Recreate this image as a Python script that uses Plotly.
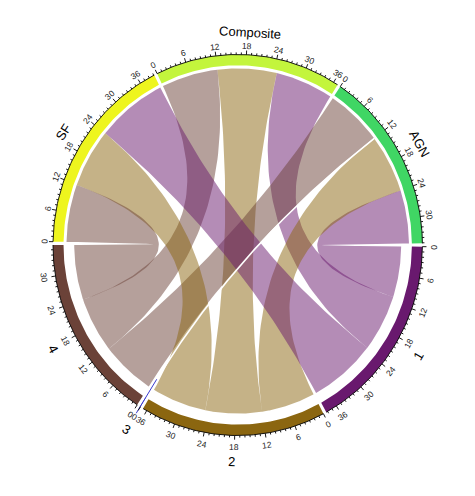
import numpy as np
import plotly.graph_objects as go

# ---------------- data ----------------
rows = ["Composite", "AGN", "SF"]
cols = ["1", "2", "3", "4"]
composite_links = [12.3, 12.6, 0.0, 12.0]   # Composite -> 1, 2, 3, 4
agn_links = [11.0, 12.0, 0.1, 12.0]         # AGN -> 1, 2, 3, 4
sf_links = [15.0, 12.2, 0.0, 11.9]          # SF -> 1, 2, 3, 4
sector_order = ["1", "2", "3", "4", "SF", "Composite", "AGN"]
sector_colors = {
    "1": "#69196e", "2": "#8b6610", "3": "#3a3ad0", "4": "#6b4238",
    "SF": "#eef51e", "Composite": "#c3f53c", "AGN": "#40d664",
}
tick_label_step = 6

matrix = {"Composite": composite_links, "AGN": agn_links, "SF": sf_links}

# ---------------- geometry ----------------
GAP = 1.0
START = 90.5
R_OUT, R_IN, R_SRC, R_TGT = 1.0, 0.943, 0.927, 0.885

sizes = {}
for r in rows:
    sizes[r] = sum(matrix[r])
for j, c in enumerate(cols):
    sizes[c] = sum(matrix[r][j] for r in rows)
total = sum(sizes.values())
deg_per = (360.0 - GAP * len(sector_order)) / total

sec_start = {}
a = START
for s in sector_order:
    sec_start[s] = a
    a += sizes[s] * deg_per + GAP


def pt(r, th):
    t = np.radians(th)
    return r * np.sin(t), r * np.cos(t)


def arc(r, a1, a2, n=60):
    th = np.radians(np.linspace(a1, a2, n))
    return list(r * np.sin(th)), list(r * np.cos(th))


def bez(p0, p2, n=60):
    t = np.linspace(0, 1, n)
    x = (1 - t) ** 2 * p0[0] + t ** 2 * p2[0]
    y = (1 - t) ** 2 * p0[1] + t ** 2 * p2[1]
    return list(x), list(y)


idx = {s: i for i, s in enumerate(sector_order)}
# allocate link slots inside sectors (partners in reverse circle order)
slots = {}
for s in sector_order:
    if s in rows:
        partners = [(c, matrix[s][cols.index(c)]) for c in cols]
    else:
        partners = [(r, matrix[r][cols.index(s)]) for r in rows]
    partners.sort(key=lambda p: -idx[p[0]])
    pos = sec_start[s]
    for p, v in partners:
        slots[(s, p)] = (pos, pos + v * deg_per)
        pos += v * deg_per

fig = go.Figure()

# sector rings
for s in sector_order:
    a1 = sec_start[s]
    a2 = a1 + sizes[s] * deg_per
    xo, yo = arc(R_OUT, a1, a2)
    xi, yi = arc(R_IN, a2, a1)
    fig.add_trace(go.Scatter(x=xo + xi, y=yo + yi, fill="toself", mode="lines",
                             line=dict(width=0), fillcolor=sector_colors[s],
                             hoverinfo="skip", showlegend=False))


def rgba(hexc, al):
    h = hexc.lstrip("#")
    return "rgba(%d,%d,%d,%.2f)" % (int(h[0:2], 16), int(h[2:4], 16), int(h[4:6], 16), al)


# links
thin = []
for r in rows:
    for j, c in enumerate(cols):
        v = matrix[r][j]
        if v <= 0:
            continue
        a1, a2 = slots[(r, c)]
        b1, b2 = slots[(c, r)]
        if v < 0.5:
            thin.append((r, c))
            continue
        xs, ys = arc(R_SRC, a1, a2)
        bx, by = bez(pt(R_SRC, a2), pt(R_TGT, b1))
        tx, ty = arc(R_TGT, b1, b2)
        cx, cy = bez(pt(R_TGT, b2), pt(R_SRC, a1))
        fig.add_trace(go.Scatter(x=xs + bx + tx + cx, y=ys + by + ty + cy, fill="toself",
                                 mode="lines", line=dict(width=0),
                                 fillcolor=rgba(sector_colors[c], 0.5),
                                 hoverinfo="skip", showlegend=False))

for r, c in thin:
    a1, a2 = slots[(r, c)]
    b1, b2 = slots[(c, r)]
    bx, by = bez(pt(R_SRC, (a1 + a2) / 2), pt(R_TGT, (b1 + b2) / 2), 120)
    fig.add_trace(go.Scatter(x=bx, y=by, mode="lines", line=dict(color="white", width=1.6),
                             hoverinfo="skip", showlegend=False))
    m = (b1 + b2) / 2
    p0, p1 = pt(0.83, m), pt(1.04, m)
    fig.add_trace(go.Scatter(x=[p0[0], p1[0]], y=[p0[1], p1[1]], mode="lines",
                             line=dict(color=sector_colors[c], width=1),
                             hoverinfo="skip", showlegend=False))

# axis arcs and ticks
tx_, ty_ = [], []
annotations = []


def tangential_angle(th):
    th = th % 360
    if 90 < th < 270:
        ang = th - 180
    else:
        ang = th if th <= 180 else th - 360
    return ang


for s in sector_order:
    a1 = sec_start[s]
    a2 = a1 + sizes[s] * deg_per
    ax_, ay_ = arc(R_OUT, a1, a2)
    tx_ += ax_ + [None]
    ty_ += ay_ + [None]
    k = 0
    while k <= sizes[s] + 1e-9:
        th = a1 + k * deg_per
        major = (k % tick_label_step == 0)
        ln = 0.022 if major else 0.011
        p0, p1 = pt(R_OUT, th), pt(R_OUT + ln, th)
        tx_ += [p0[0], p1[0], None]
        ty_ += [p0[1], p1[1], None]
        if major:
            bottom = 90 < (th % 360) < 270
            rl = 1.062 if bottom else 1.048
            lx, ly = pt(rl, th)
            annotations.append(dict(x=lx, y=ly, text=str(k), showarrow=False,
                                    textangle=tangential_angle(th),
                                    font=dict(size=8.5, color="#222",
                                              family="Liberation Sans, Arial"),
                                    xanchor="center", yanchor="middle"))
        k += 1
    mid = (a1 + a2) / 2
    bottom = 90 < (mid % 360) < 270
    rn = 1.138 if bottom else 1.116
    nx, ny = pt(rn, mid)
    annotations.append(dict(x=nx, y=ny, text=s, showarrow=False,
                            textangle=tangential_angle(mid),
                            font=dict(size=13, color="black",
                                      family="Liberation Sans, Arial"),
                            xanchor="center", yanchor="middle"))

fig.add_trace(go.Scatter(x=tx_, y=ty_, mode="lines", line=dict(color="black", width=0.9),
                         hoverinfo="skip", showlegend=False))

# ---------------- layout ----------------
W, H = 475, 496
CX, CY = 237.7, 245.0
SX, SY = 184.7, 190.5
fig.update_layout(
    width=W, height=H, margin=dict(l=0, r=0, t=0, b=0),
    paper_bgcolor="white", plot_bgcolor="white",
    xaxis=dict(range=[-CX / SX, (W - CX) / SX], visible=False, fixedrange=True),
    yaxis=dict(range=[-(H - CY) / SY, CY / SY], visible=False, fixedrange=True),
    annotations=annotations, showlegend=False,
)
fig.write_html("out.html")
